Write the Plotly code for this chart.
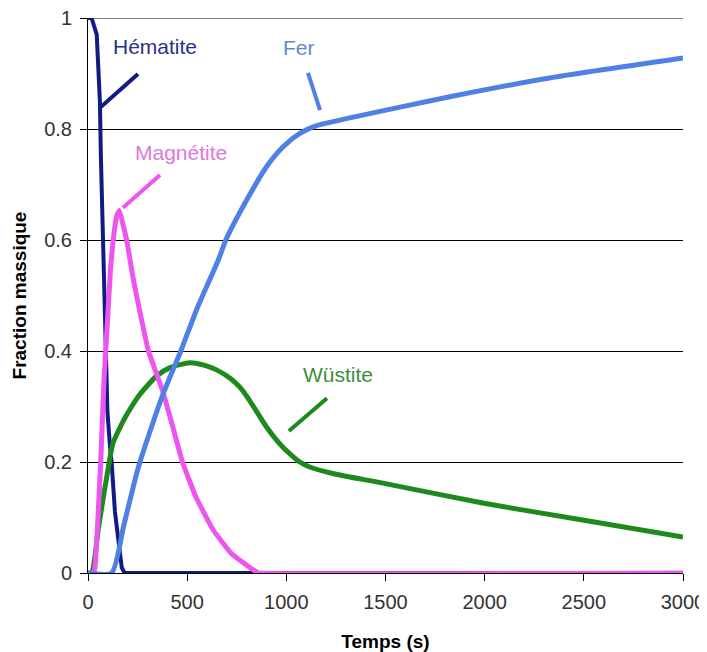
import plotly.graph_objects as go

# ---- data ----
hem_t = [0, 18, 44, 52, 60, 65, 72, 81, 86, 94, 98, 111, 119, 136, 156, 170, 184, 3000]
hem_v = [1.0, 1.0, 0.97, 0.92, 0.85, 0.75, 0.65, 0.55, 0.46, 0.35, 0.29, 0.228, 0.2, 0.11, 0.05, 0.01, 0.0, 0.0]

mag_t = [0, 28, 35, 47, 64, 81, 99, 114, 127, 146, 158, 175, 195, 228, 262, 305, 380, 430, 476, 544, 632, 723, 800, 845, 860, 3000]
mag_v = [0, 0, 0.01, 0.077, 0.2, 0.35, 0.46, 0.55, 0.6, 0.645, 0.653, 0.63, 0.6, 0.53, 0.47, 0.4, 0.324, 0.26, 0.2, 0.137, 0.077, 0.035, 0.014, 0.003, 0.0, 0.0]

wus_t = [0, 18, 35, 51, 107, 127, 161, 195, 262, 346, 413, 514, 580, 648, 720, 770, 820, 900, 984, 1068, 1118, 1250, 1487, 1990, 2494, 3000]
wus_v = [0, 0, 0.03, 0.077, 0.2, 0.235, 0.262, 0.285, 0.322, 0.355, 0.37, 0.379, 0.375, 0.366, 0.35, 0.333, 0.308, 0.263, 0.226, 0.2, 0.191, 0.178, 0.162, 0.126, 0.0955, 0.065]

fer_t = [0, 119, 180, 237, 262, 321, 380, 468, 547, 657, 695, 800, 900, 984, 1068, 1152, 1320, 1824, 2327, 3000]
fer_v = [0, 0, 0.085, 0.168, 0.2, 0.264, 0.324, 0.4, 0.474, 0.564, 0.6, 0.672, 0.732, 0.768, 0.792, 0.806, 0.82, 0.858, 0.892, 0.928]

x_ticks = [0, 500, 1000, 1500, 2000, 2500, 3000]
y_ticks = [0, 0.2, 0.4, 0.6, 0.8, 1]
y_tick_text = ["0", "0.2", "0.4", "0.6", "0.8", "1"]

labels = ["Hématite", "Magnétite", "Fer", "Wüstite"]
label_pos = [(338, 0.948), (469, 0.757), (1064, 0.946), (1258, 0.357)]
leader = [((66, 0.84), (252, 0.899)), ((176, 0.658), (363, 0.717)),
          ((1109, 0.901), (1170, 0.834)), ((1013, 0.256), (1205, 0.315))]

C_HEM = "#101c84"
C_MAG = "#ee55ee"
C_FER = "#4f80e6"
C_WUS = "#1e8a1e"
label_colors = ["#2b3088", "#dd77dd", "#6688cc", "#3d8d3d"]
line_colors = [C_HEM, C_MAG, C_FER, C_WUS]

FONT = "Liberation Sans, Arial, sans-serif"

fig = go.Figure()
fig.add_trace(go.Scatter(x=hem_t, y=hem_v, mode="lines", line=dict(color=C_HEM, width=4), name="Hématite"))
fig.add_trace(go.Scatter(x=wus_t, y=wus_v, mode="lines",
                         line=dict(color=C_WUS, width=5, shape="spline", smoothing=0.6), name="Wüstite"))
fig.add_trace(go.Scatter(x=mag_t, y=mag_v, mode="lines",
                         line=dict(color=C_MAG, width=5, shape="spline", smoothing=0.3), name="Magnétite"))
fig.add_trace(go.Scatter(x=fer_t, y=fer_v, mode="lines",
                         line=dict(color=C_FER, width=5, shape="spline", smoothing=0.6), name="Fer"))

for txt, (tx, ty), col in zip(labels, label_pos, label_colors):
    fig.add_annotation(x=tx, y=ty, text=txt, showarrow=False,
                       font=dict(family=FONT, size=21, color=col),
                       xanchor="center", yanchor="middle")

for ((x0, y0), (x1, y1)), col in zip(leader, line_colors):
    fig.add_shape(type="line", x0=x0, y0=y0, x1=x1, y1=y1,
                  line=dict(color=col, width=4), xref="x", yref="y")

# top gridline at y = 1 (edge of the range)
fig.add_shape(type="line", xref="x domain", yref="y", x0=0, x1=1, y0=1, y1=1,
              line=dict(color="black", width=1), layer="below")

# page body adds an 8px margin, so the figure is 8px smaller and offsets reduced
fig.update_layout(
    width=699, height=644,
    margin=dict(l=80, r=24, t=10, b=79),
    paper_bgcolor="white", plot_bgcolor="white",
    showlegend=False,
    font=dict(family=FONT, color="#333333"),
)
fig.update_xaxes(
    range=[0, 3000], tickvals=x_ticks, ticks="outside", ticklen=7, tickcolor="black",
    showline=True, linecolor="black", linewidth=1, showgrid=False, zeroline=False,
    automargin=False, ticklabelstandoff=4, ticklabeloverflow="allow",
    tickfont=dict(family=FONT, size=20, color="#333333"),
    title=dict(text="<b>Temps (s)</b>", font=dict(family=FONT, size=19, color="black"), standoff=24),
)
fig.update_yaxes(
    range=[0, 1.0], tickvals=y_ticks, ticktext=y_tick_text, ticks="outside", ticklen=7, tickcolor="black",
    showline=True, linecolor="black", linewidth=1, showgrid=True, gridcolor="black", gridwidth=1,
    zeroline=False, automargin=False, ticklabelstandoff=4, ticklabeloverflow="allow",
    tickfont=dict(family=FONT, size=20, color="#333333"),
    title=dict(text="<b>Fraction massique</b>", font=dict(family=FONT, size=19, color="black"), standoff=12),
)

fig.write_html("out.html")
